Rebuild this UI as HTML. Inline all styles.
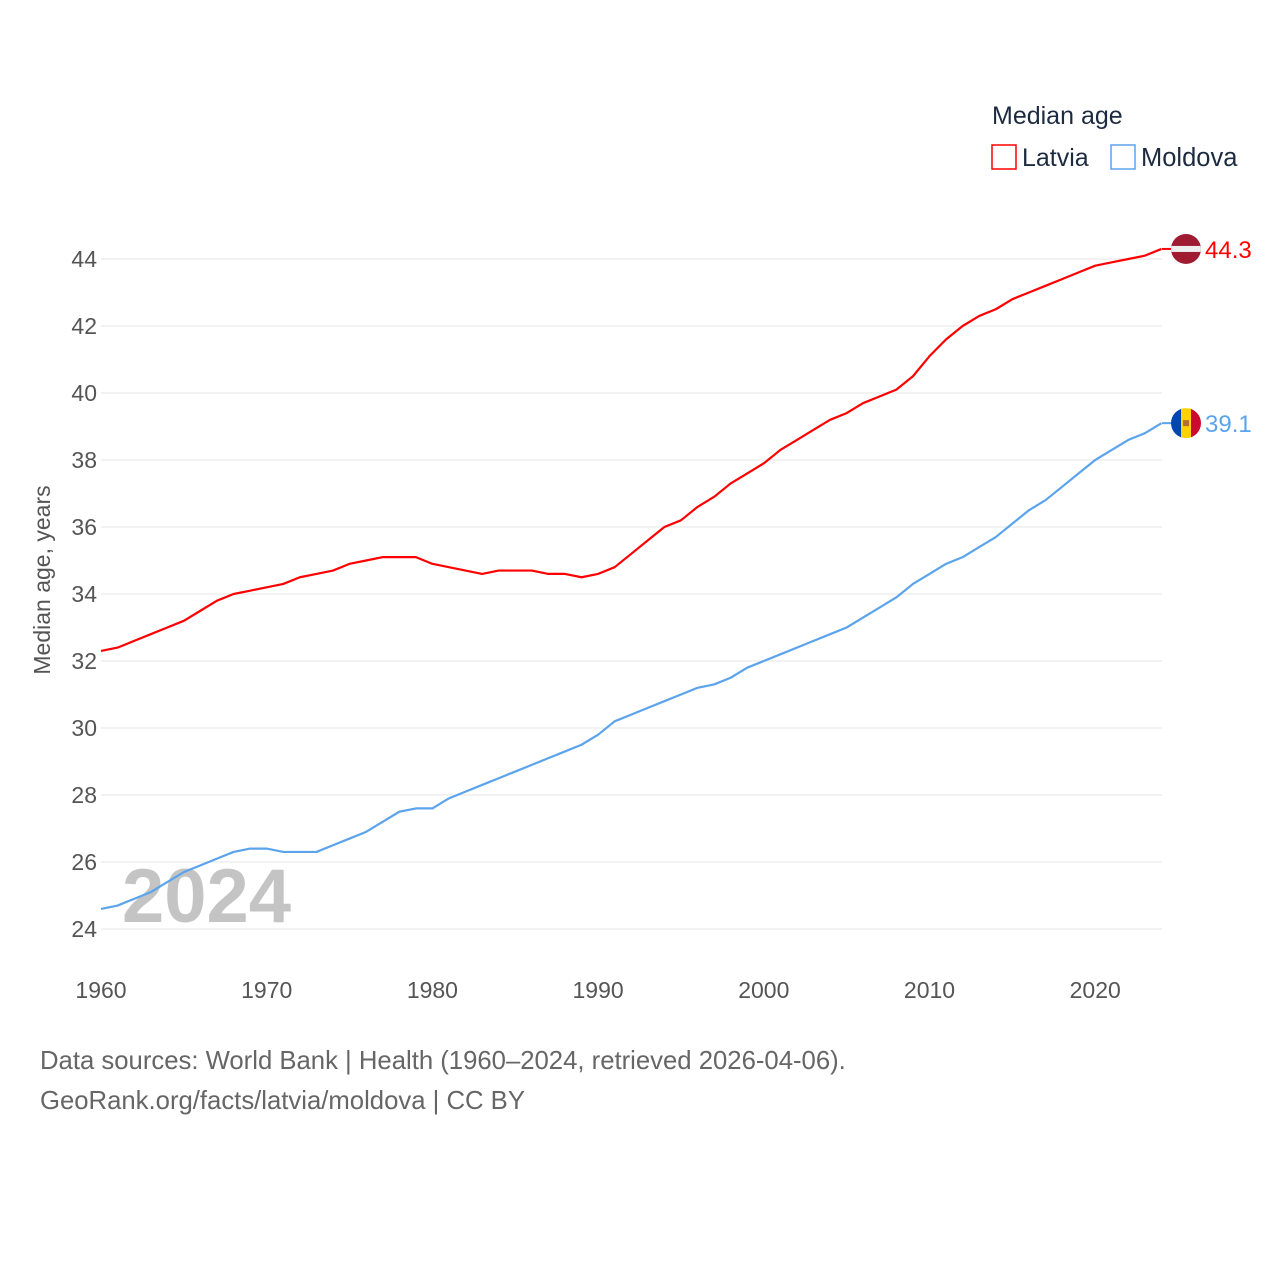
<!DOCTYPE html>
<html><head><meta charset="utf-8"><style>
body{margin:0;background:#fff;font-family:"Liberation Sans",sans-serif}
svg text{font-family:"Liberation Sans",sans-serif}
</style></head><body>
<svg width="1280" height="1280" viewBox="0 0 1280 1280">
<g id="grid"></g>
<g id="yt"></g>
<g id="xt"></g>
<text x="122" y="922" font-size="76" font-weight="bold" fill="#c4c4c4">2024</text>
<g id="lines"></g>
<text transform="translate(50,580) rotate(-90)" text-anchor="middle" font-size="23" fill="#555">Median age, years</text>
<text x="992" y="124" font-size="25" fill="#1d2b40">Median age</text>
<g><rect x="992" y="145" width="24" height="24" fill="none" stroke="#f00" stroke-width="1.5"/><text x="1022" y="166" font-size="25" fill="#1d2b40">Latvia</text></g>
<g><rect x="1111" y="145" width="24" height="24" fill="none" stroke="#5ba4ec" stroke-width="1.5"/><text x="1141" y="166" font-size="25.5" fill="#1d2b40">Moldova</text></g>
<g id="ends"></g>
<text x="40" y="1069" font-size="25.7" fill="#666">Data sources: World Bank | Health (1960–2024, retrieved 2026-04-06).</text>
<text x="40" y="1109" font-size="25.7" fill="#666">GeoRank.org/facts/latvia/moldova | CC BY</text>
</svg>
<script>
const years=[];for(let y=1960;y<=2024;y++)years.push(y);
const latvia=[32.3,32.4,32.6,32.8,33.0,33.2,33.5,33.8,34.0,34.1,34.2,34.3,34.5,34.6,34.7,34.9,35.0,35.1,35.1,35.1,34.9,34.8,34.7,34.6,34.7,34.7,34.7,34.6,34.6,34.5,34.6,34.8,35.2,35.6,36.0,36.2,36.6,36.9,37.3,37.6,37.9,38.3,38.6,38.9,39.2,39.4,39.7,39.9,40.1,40.5,41.1,41.6,42.0,42.3,42.5,42.8,43.0,43.2,43.4,43.6,43.8,43.9,44.0,44.1,44.3];
const moldova=[24.6,24.7,24.9,25.1,25.4,25.7,25.9,26.1,26.3,26.4,26.4,26.3,26.3,26.3,26.5,26.7,26.9,27.2,27.5,27.6,27.6,27.9,28.1,28.3,28.5,28.7,28.9,29.1,29.3,29.5,29.8,30.2,30.4,30.6,30.8,31.0,31.2,31.3,31.5,31.8,32.0,32.2,32.4,32.6,32.8,33.0,33.3,33.6,33.9,34.3,34.6,34.9,35.1,35.4,35.7,36.1,36.5,36.8,37.2,37.6,38.0,38.3,38.6,38.8,39.1];
const yTicks=[24,26,28,30,32,34,36,38,40,42,44];
const xTicks=[1960,1970,1980,1990,2000,2010,2020];
const X=y=>101+(y-1960)*16.57, Y=v=>259+(44-v)*33.5;
const NS="http://www.w3.org/2000/svg";
function mk(t,a,p){const e=document.createElementNS(NS,t);for(const k in a)e.setAttribute(k,a[k]);p.appendChild(e);return e;}
const g=document.getElementById('grid'),yt=document.getElementById('yt'),xt=document.getElementById('xt');
yTicks.forEach(v=>{const l=mk('line',{x1:101,x2:1162,y1:Y(v),y2:Y(v),stroke:'#e6e6e6','stroke-width':1},g);


const t=mk('text',{x:97,y:Y(v)+8,'text-anchor':'end','font-size':23,fill:'#555'},yt);t.textContent=v;

});
xTicks.forEach(v=>{const t=mk('text',{x:X(v),y:998,'text-anchor':'middle','font-size':23,fill:'#555'},xt);t.textContent=v;

});
const L=document.getElementById('lines');
[[latvia,'#ff0000','latvia-line'],[moldova,'#5ba4ec','moldova-line']].forEach(([d,c,n])=>{
const p=mk('polyline',{points:d.map((v,i)=>X(years[i])+','+Y(v)).join(' '),fill:'none',stroke:c,'stroke-width':2.2,'stroke-linejoin':'round'},L);

});
const E=document.getElementById('ends');
const la=latvia[latvia.length-1],mo=moldova[moldova.length-1];
let y1=Y(la),y2=Y(mo);
mk('line',{x1:1162,x2:1175,y1:y1,y2:y1,stroke:'#f00','stroke-width':2},E);
mk('line',{x1:1162,x2:1175,y1:y2,y2:y2,stroke:'#5ba4ec','stroke-width':2},E);
const f1=mk('g',{},E);
const cp1=mk('clipPath',{id:'c1'},f1);mk('circle',{cx:1186,cy:y1,r:15},cp1);
const gg1=mk('g',{'clip-path':'url(#c1)'},f1);
mk('rect',{x:1171,y:y1-15,width:30,height:30,fill:'#9e1b32'},gg1);mk('rect',{x:1171,y:y1-3,width:30,height:6,fill:'#eee'},gg1);
const f2=mk('g',{},E);
const cp=mk('clipPath',{id:'c2'},f2);mk('circle',{cx:1186,cy:y2,r:15},cp);
const gg2=mk('g',{'clip-path':'url(#c2)'},f2);
mk('rect',{x:1171,y:y2-15,width:10,height:30,fill:'#0046ae'},gg2);mk('rect',{x:1181,y:y2-15,width:10,height:30,fill:'#ffd200'},gg2);mk('rect',{x:1191,y:y2-15,width:10,height:30,fill:'#cc092f'},gg2);
mk('rect',{x:1183,y:y2-3,width:6,height:6,fill:'#b07030'},gg2);
const t1=mk('text',{x:1205,y:y1+9,'font-size':24,fill:'#f00'},E);t1.textContent=la.toFixed(1);


const t2=mk('text',{x:1205,y:y2+9,'font-size':24,fill:'#5ba4ec'},E);t2.textContent=mo.toFixed(1);


</script>
</body></html>
